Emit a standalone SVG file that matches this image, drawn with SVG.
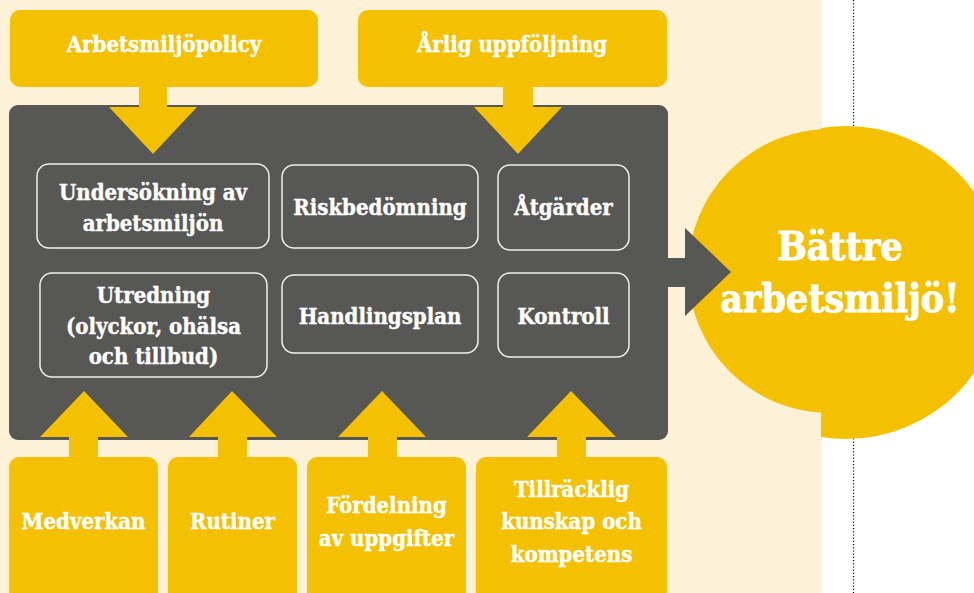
<svg xmlns="http://www.w3.org/2000/svg" width="974" height="593" viewBox="0 0 974 593">
<defs>
<style>
.y{fill:#F4C002}
.dk{fill:#575755}
.ib{fill:none;stroke:#F0F0EE;stroke-width:1.5}
.t{font-family:"DejaVu Serif Condensed","DejaVu Serif",serif;font-stretch:condensed;font-weight:bold;font-size:22px;fill:#FFFFFF;stroke:#FFFFFF;stroke-width:0.4;text-anchor:middle}
.big{font-size:39px;stroke-width:0.8}
</style>
<clipPath id="cl"><rect x="0" y="0" width="821" height="593"/></clipPath>
<clipPath id="cr"><rect x="821" y="0" width="153" height="593"/></clipPath>
</defs>
<rect x="0" y="0" width="974" height="593" fill="#FFFFFF"/>
<rect x="0" y="0" width="822" height="593" fill="#FDF1D8"/>
<line x1="853.5" y1="0" x2="853.5" y2="593" stroke="#000" stroke-width="1.2" stroke-dasharray="1.2 2"/>

<g id="result">
<circle cx="830" cy="271" r="142" class="y" clip-path="url(#cl)"/>
<circle cx="846.5" cy="282.5" r="156.5" class="y" clip-path="url(#cr)"/>
<text class="t big" x="840" y="260">Bättre</text>
<text class="t big" x="840" y="312">arbetsmiljö!</text>
</g>

<g id="process">
<rect x="9" y="105" width="659" height="335" rx="9" class="dk"/>
</g>

<g id="connectors">
<path class="y" d="M139,86 H167 V107 H197 L153,154 L109,107 H139 Z"/>
<path class="y" d="M503,86 H533 V107 H562 L518,154 L474,107 H503 Z"/>
<path class="y" d="M69,458 V437 H40 L84,391 L128,437 H98 V458 Z"/>
<path class="y" d="M218,458 V437 H189 L232,391 L277,437 H247 V458 Z"/>
<path class="y" d="M368,458 V437 H338 L382,391 L426,437 H397 V458 Z"/>
<path class="y" d="M557,458 V437 H527 L571,391 L616,437 H586 V458 Z"/>
<path class="dk" d="M667,258 H685 V228 L731,272 L685,316 V287 H667 Z"/>
</g>

<g id="policy">
<rect x="10" y="10" width="308" height="77" rx="10" class="y"/>
<text class="t" x="164" y="52">Arbetsmiljöpolicy</text>
</g>
<g id="uppfoljning">
<rect x="358" y="10" width="309" height="77" rx="10" class="y"/>
<text class="t" x="512" y="52">Årlig uppföljning</text>
</g>

<g id="undersokning">
<rect x="37" y="164" width="232" height="84" rx="12" class="ib"/>
<text class="t" x="153" y="200">Undersökning av</text>
<text class="t" x="153" y="231">arbetsmiljön</text>
</g>
<g id="riskbedomning">
<rect x="282" y="165" width="196" height="83" rx="12" class="ib"/>
<text class="t" x="380" y="215">Riskbedömning</text>
</g>
<g id="atgarder">
<rect x="498" y="165" width="131" height="85" rx="12" class="ib"/>
<text class="t" x="563.5" y="215">Åtgärder</text>
</g>
<g id="utredning">
<rect x="40" y="273" width="227" height="104" rx="12" class="ib"/>
<text class="t" x="153.5" y="303">Utredning</text>
<text class="t" x="153.5" y="334">(olyckor, ohälsa</text>
<text class="t" x="153.5" y="364">och tillbud)</text>
</g>
<g id="handlingsplan">
<rect x="282" y="275" width="196" height="78" rx="12" class="ib"/>
<text class="t" x="380" y="324">Handlingsplan</text>
</g>
<g id="kontroll">
<rect x="498" y="273" width="131" height="84" rx="12" class="ib"/>
<text class="t" x="563.5" y="324">Kontroll</text>
</g>

<g id="medverkan">
<rect x="9" y="457" width="149" height="146" rx="10" class="y"/>
<text class="t" x="83.5" y="529">Medverkan</text>
</g>
<g id="rutiner">
<rect x="168" y="457" width="129" height="146" rx="10" class="y"/>
<text class="t" x="232.5" y="529">Rutiner</text>
</g>
<g id="fordelning">
<rect x="307" y="457" width="159" height="146" rx="10" class="y"/>
<text class="t" x="386.5" y="513">Fördelning</text>
<text class="t" x="386.5" y="546">av uppgifter</text>
</g>
<g id="kunskap">
<rect x="476" y="457" width="191" height="146" rx="10" class="y"/>
<text class="t" x="571.5" y="497">Tillräcklig</text>
<text class="t" x="571.5" y="529">kunskap och</text>
<text class="t" x="571.5" y="562">kompetens</text>
</g>
</svg>
